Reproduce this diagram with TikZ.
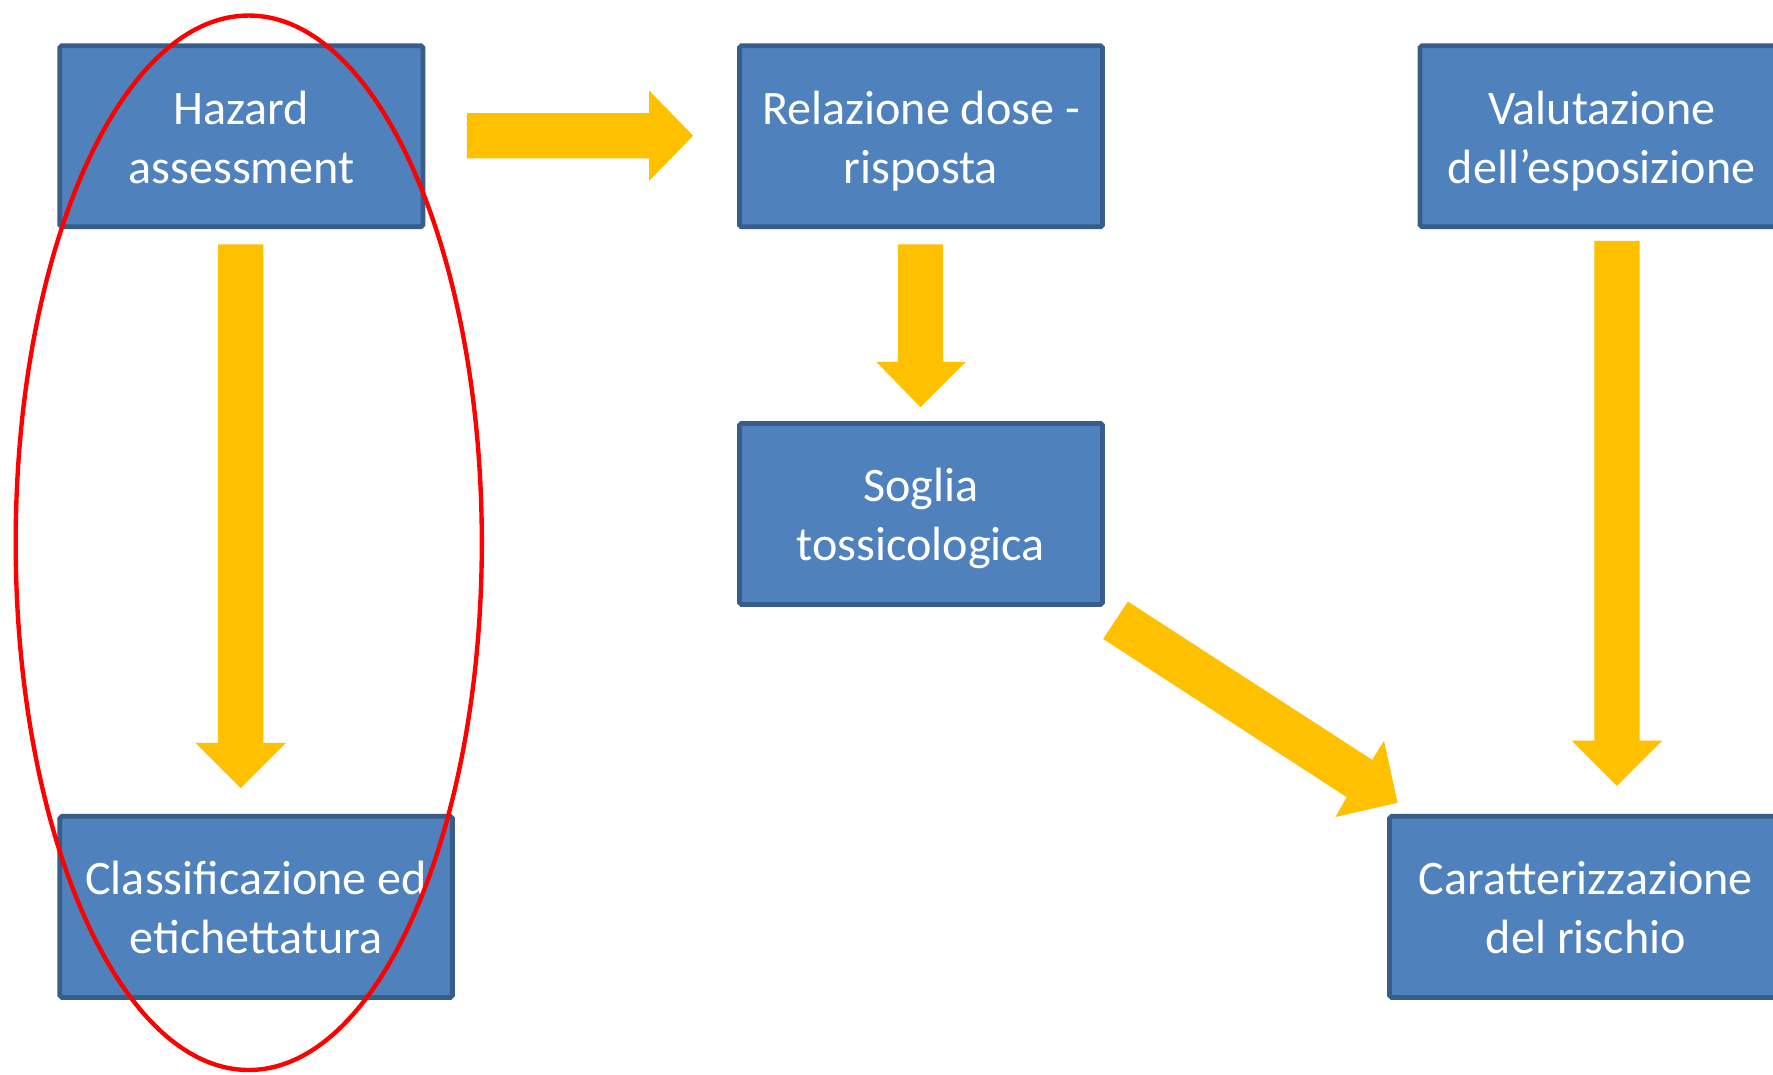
\documentclass[tikz,border=0pt]{standalone}
\usepackage{fontspec}
\setmainfont{Carlito}
\definecolor{boxfill}{HTML}{4F81BD}
\definecolor{boxline}{HTML}{385D8A}
\definecolor{arrowyellow}{HTML}{FFC000}
\newcommand\topstr{\rule[-4.44pt]{0pt}{17.64pt}}
\newcommand\botstr{\rule[-4.44pt]{0pt}{14.8pt}}
\begin{document}
\begin{tikzpicture}[x=0.01cm,y=-0.01cm,
  box/.style={draw=boxline, line width=1.2pt, fill=boxfill, text=white,
    align=center, inner sep=0pt, minimum width=3.21cm, minimum height=1.60cm,
    font=\fontsize{12.1}{14.8}\selectfont, rounded corners=0.5pt},
  widebox/.style={box, minimum width=3.47cm},
  blockarrow/.style={fill=arrowyellow, draw=none},
  ring/.style={draw=red, line width=1.1pt}]
\useasboundingbox (0,0) rectangle (1568,950);
\fill[white] (0,0) rectangle (1568,950);
% boxes
\node[box] (haz) at (213.5,120.5) {\topstr Hazard\\\botstr assessment};
\node[box] (rel) at (814.5,120.5) {\topstr Relazione dose -\\\botstr risposta};
\node[box] (val) at (1416.5,120.5) {\topstr Valutazione\\\botstr dell’esposizione};
\node[box] (sog) at (814.5,454.5) {\topstr Soglia\\\botstr tossicologica};
\node[widebox] (cla) at (226.5,802) {\topstr Classificazione ed\\\botstr etichettatura};
\node[widebox] (car) at (1402.5,802) {\topstr Caratterizzazione\\\botstr del rischio};
% block arrows
\fill[blockarrow] (413,100) -- (574,100) -- (574,80) -- (613,120) -- (574,160) -- (574,140) -- (413,140) -- cycle;
\fill[blockarrow] (193,216) -- (233,216) -- (233,657) -- (253,657) -- (213,697) -- (173,657) -- (193,657) -- cycle;
\fill[blockarrow] (794,216) -- (834,216) -- (834,320) -- (854,320) -- (814,360) -- (775,320) -- (794,320) -- cycle;
\fill[blockarrow] (1410,213) -- (1450,213) -- (1450,655) -- (1470,655) -- (1430,695) -- (1390,655) -- (1410,655) -- cycle;
\fill[blockarrow] (997.5,532) -- (1213.5,672) -- (1224,655) -- (1236,710) -- (1181,722.5) -- (1191,705) -- (975.6,565) -- cycle;
% ellipse
\draw[ring] (220,480) ellipse [x radius=2.06cm, y radius=4.66cm];
\end{tikzpicture}
\end{document}
